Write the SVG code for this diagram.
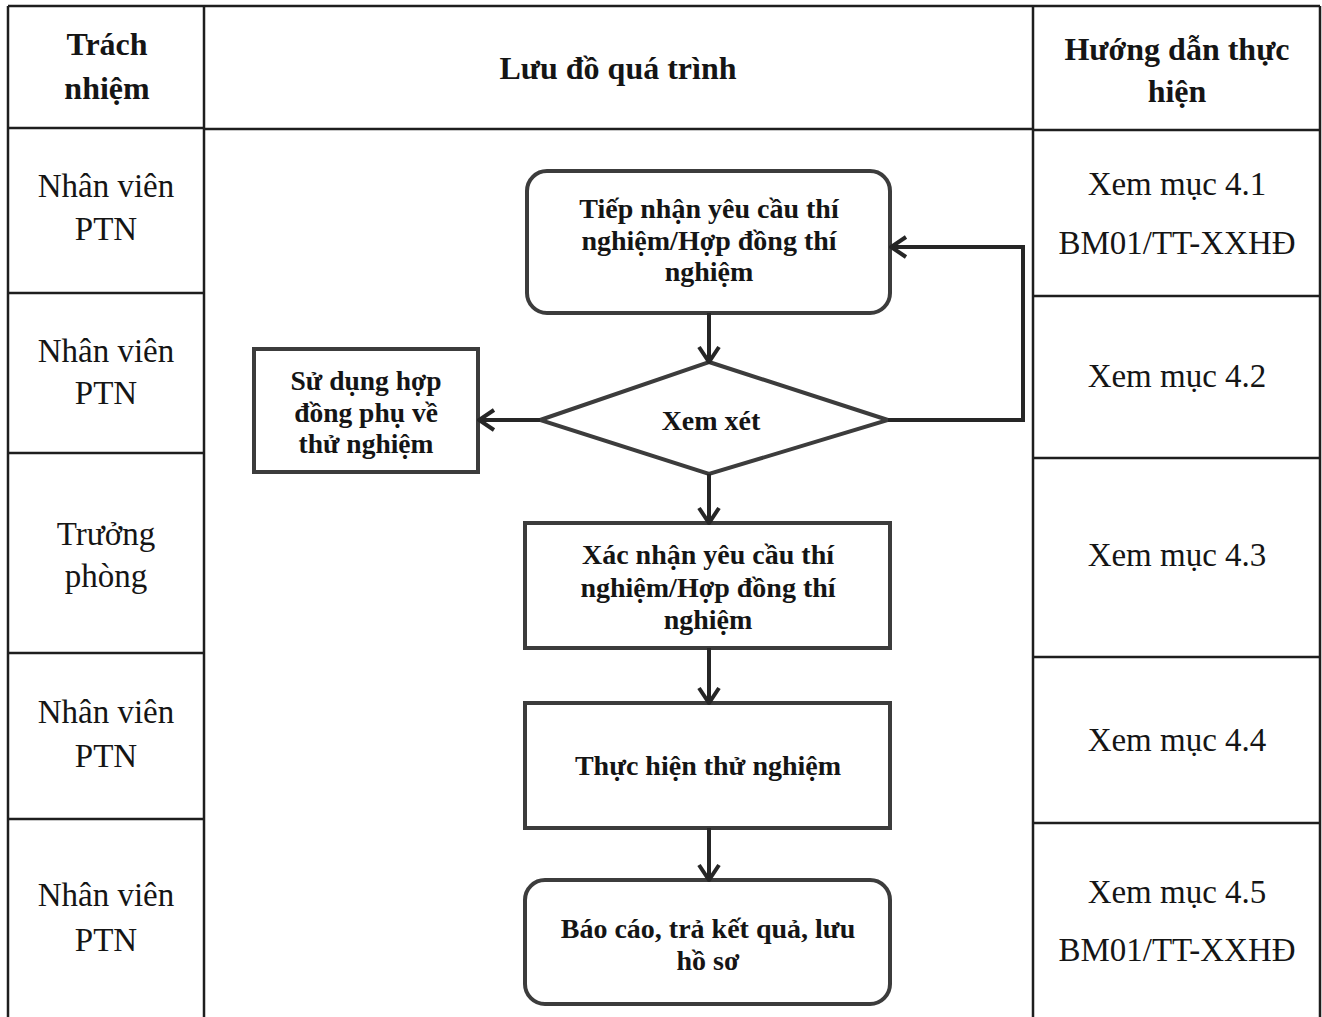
<svg xmlns="http://www.w3.org/2000/svg" width="1322" height="1017" viewBox="0 0 1322 1017">
  <style>
    .grid { stroke: #1e1e1e; stroke-width: 2.5; fill: none; }
    .hd { font-family: "Liberation Serif", "Times New Roman", serif; font-weight: bold; font-size: 32px; fill: #151515; text-anchor: middle; }
    .tx { font-family: "Liberation Serif", "Times New Roman", serif; font-size: 33px; fill: #151515; text-anchor: middle; }
    .nd { font-family: "Liberation Serif", "Times New Roman", serif; font-weight: bold; font-size: 28px; fill: #151515; text-anchor: middle; }
    .nd.sm { font-size: 27.5px; }
    .shape { fill: none; stroke: #3c3c3c; stroke-width: 4; }
    .link { fill: none; stroke: #262626; stroke-width: 4; }
  </style>
  <defs>
    <marker id="arrow" markerUnits="userSpaceOnUse" markerWidth="22" markerHeight="26" viewBox="0 0 22 26" refX="20" refY="13" orient="auto">
      <path d="M5,3 L20,13 L5,23" fill="none" stroke="#262626" stroke-width="4" stroke-linejoin="miter"/>
    </marker>
  </defs>

  <rect width="1322" height="1017" fill="#ffffff"/>

  <!-- table frame -->
  <g id="table">
    <line class="grid" x1="8" y1="6" x2="1320" y2="6"/>
    <line class="grid" x1="8" y1="6" x2="8" y2="1017"/>
    <line class="grid" x1="204" y1="6" x2="204" y2="1017"/>
    <line class="grid" x1="1033" y1="6" x2="1033" y2="1017"/>
    <line class="grid" x1="1320" y1="6" x2="1320" y2="1017"/>
    <!-- header rule -->
    <line class="grid" x1="8" y1="128" x2="204" y2="128"/>
    <line class="grid" x1="204" y1="129" x2="1033" y2="129"/>
    <line class="grid" x1="1033" y1="130" x2="1320" y2="130"/>
    <!-- responsibility rows -->
    <line class="grid" x1="8" y1="293" x2="204" y2="293"/>
    <line class="grid" x1="8" y1="453" x2="204" y2="453"/>
    <line class="grid" x1="8" y1="653" x2="204" y2="653"/>
    <line class="grid" x1="8" y1="819" x2="204" y2="819"/>
    <!-- guidance rows -->
    <line class="grid" x1="1033" y1="296" x2="1320" y2="296"/>
    <line class="grid" x1="1033" y1="458" x2="1320" y2="458"/>
    <line class="grid" x1="1033" y1="657" x2="1320" y2="657"/>
    <line class="grid" x1="1033" y1="823" x2="1320" y2="823"/>
  </g>

  <!-- column headers -->
  <g id="headers">
    <text class="hd" x="107" y="55">Trách</text>
    <text class="hd" x="107" y="99">nhiệm</text>
    <text class="hd" x="618" y="79">Lưu đồ quá trình</text>
    <text class="hd" x="1177" y="60">Hướng dẫn thực</text>
    <text class="hd" x="1177" y="102">hiện</text>
  </g>

  <!-- responsibility column -->
  <g id="responsibility">
    <text class="tx" x="106" y="197">Nhân viên</text>
    <text class="tx" x="106" y="240">PTN</text>
    <text class="tx" x="106" y="362">Nhân viên</text>
    <text class="tx" x="106" y="404">PTN</text>
    <text class="tx" x="106" y="545">Trưởng</text>
    <text class="tx" x="106" y="587">phòng</text>
    <text class="tx" x="106" y="723">Nhân viên</text>
    <text class="tx" x="106" y="767">PTN</text>
    <text class="tx" x="106" y="906">Nhân viên</text>
    <text class="tx" x="106" y="951">PTN</text>
  </g>

  <!-- guidance column -->
  <g id="guidance">
    <text class="tx" x="1177" y="195">Xem mục 4.1</text>
    <text class="tx" x="1177" y="254">BM01/TT-XXHĐ</text>
    <text class="tx" x="1177" y="387">Xem mục 4.2</text>
    <text class="tx" x="1177" y="566">Xem mục 4.3</text>
    <text class="tx" x="1177" y="751">Xem mục 4.4</text>
    <text class="tx" x="1177" y="903">Xem mục 4.5</text>
    <text class="tx" x="1177" y="961">BM01/TT-XXHĐ</text>
  </g>

  <!-- flowchart nodes -->
  <g id="receive">
    <rect class="shape" x="527" y="171" width="363" height="142" rx="20" ry="20"/>
    <text class="nd" x="709" y="218">Tiếp nhận yêu cầu thí</text>
    <text class="nd" x="709" y="250">nghiệm/Hợp đồng thí</text>
    <text class="nd" x="709" y="281">nghiệm</text>
  </g>

  <g id="review">
    <polygon class="shape" points="709,362 888,420 709,474 540,420"/>
    <text class="nd" x="711" y="430">Xem xét</text>
  </g>

  <g id="addendum">
    <rect class="shape" x="254" y="349" width="224" height="123"/>
    <text class="nd sm" x="366" y="390">Sử dụng hợp</text>
    <text class="nd sm" x="366" y="422">đồng phụ về</text>
    <text class="nd sm" x="366" y="453">thử nghiệm</text>
  </g>

  <g id="confirm">
    <rect class="shape" x="525" y="523" width="365" height="125"/>
    <text class="nd" x="708" y="564">Xác nhận yêu cầu thí</text>
    <text class="nd" x="708" y="597">nghiệm/Hợp đồng thí</text>
    <text class="nd" x="708" y="629">nghiệm</text>
  </g>

  <g id="perform">
    <rect class="shape" x="525" y="703" width="365" height="125"/>
    <text class="nd" x="708" y="775">Thực hiện thử nghiệm</text>
  </g>

  <g id="report">
    <rect class="shape" x="525" y="880" width="365" height="124" rx="20" ry="20"/>
    <text class="nd" x="708" y="938">Báo cáo, trả kết quả, lưu</text>
    <text class="nd" x="708" y="970">hồ sơ</text>
  </g>

  <!-- connectors -->
  <g id="connectors">
    <line class="link" x1="709" y1="313" x2="709" y2="362" marker-end="url(#arrow)"/>
    <line class="link" x1="540" y1="420" x2="479" y2="420" marker-end="url(#arrow)"/>
    <polyline class="link" points="888,420 1023,420 1023,247 891,247" marker-end="url(#arrow)"/>
    <line class="link" x1="709" y1="474" x2="709" y2="523" marker-end="url(#arrow)"/>
    <line class="link" x1="709" y1="648" x2="709" y2="703" marker-end="url(#arrow)"/>
    <line class="link" x1="709" y1="828" x2="709" y2="880" marker-end="url(#arrow)"/>
  </g>
</svg>
